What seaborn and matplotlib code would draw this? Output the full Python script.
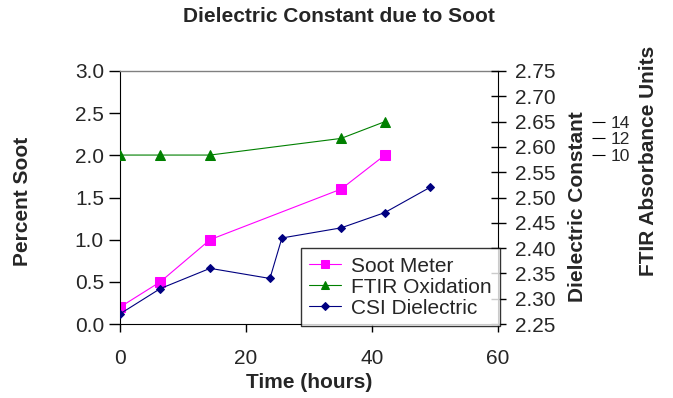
import matplotlib
matplotlib.use("Agg")
import matplotlib.pyplot as plt
import seaborn as sns

# Data
soot_hours = [0, 6.4, 14.3, 35.1, 42.0]
soot_pct = [0.2, 0.5, 1.0, 1.6, 2.0]

ftir_hours = [0, 6.4, 14.3, 35.1, 42.0]
ftir_abs = [10, 10, 10, 12, 14]

csi_hours = [0, 6.4, 14.3, 23.8, 25.7, 35.1, 42.0, 49.2]
csi_diel = [2.27, 2.32, 2.36, 2.34, 2.42, 2.44, 2.47, 2.52]

left_ticks = [0.0, 0.5, 1.0, 1.5, 2.0, 2.5, 3.0]
right_ticks = [2.25, 2.30, 2.35, 2.40, 2.45, 2.50, 2.55, 2.60, 2.65, 2.70, 2.75]
ftir_ticks = [10, 12, 14]
x_ticks = [0, 20, 40, 60]

sns.set_style("white")
plt.rcParams['font.family'] = ['Liberation Sans', 'DejaVu Sans']

fig = plt.figure(figsize=(6.73, 3.98), dpi=100)
ax = fig.add_axes([120/673, 1-324/398, 378/673, 253/398])
ax2 = ax.twinx()
ax3 = ax.twinx()

FS = 15
PX = 72/100  # points per pixel

sns.lineplot(x=soot_hours, y=soot_pct, ax=ax, color='#FF00FF', marker='s',
             markersize=6.5, markeredgecolor='#FF00FF', linewidth=0.8, label='Soot Meter', legend=False)
sns.lineplot(x=ftir_hours, y=ftir_abs, ax=ax3, color='#008000', marker='^',
             markersize=6.5, markeredgecolor='#008000', linewidth=0.8, label='FTIR Oxidation', legend=False)
sns.lineplot(x=csi_hours, y=csi_diel, ax=ax2, color='#000080', marker='D',
             markersize=4.5, markeredgecolor='#000080', linewidth=0.8, label='CSI Dielectric', legend=False)

# Left axis
ax.set_xlim(0, 60)
ax.set_ylim(0, 3.0)
ax.set_xticks(x_ticks)
ax.set_xticklabels([str(t) for t in x_ticks], fontsize=FS)
ax.set_yticks(left_ticks)
ax.set_yticklabels([f"{t:.1f}" for t in left_ticks], fontsize=FS)
ax.tick_params(axis='y', direction='out', length=11*PX, width=1, color='black', left=True, pad=5*PX)
ax.tick_params(axis='x', direction='out', length=8*PX, width=1, color='black', bottom=True, pad=17*PX)
ax.spines['top'].set_visible(True)
ax.spines['top'].set_color('#808080')
ax.spines['top'].set_linewidth(1.0)
ax.spines['right'].set_visible(False)
ax.spines['left'].set_color('black')
ax.spines['bottom'].set_color('black')
ax.set_xlabel('')
ax.set_ylabel('')

# Right dielectric axis
ax2.set_ylim(2.25, 2.75)
ax2.set_yticks(right_ticks)
ax2.set_yticklabels([f"{t:.2f}" for t in right_ticks], fontsize=FS)
ax2.tick_params(axis='y', direction='inout', length=15*PX, width=1, color='black', right=True, pad=9*PX)
for s in ['top', 'left', 'bottom']:
    ax2.spines[s].set_visible(False)
ax2.spines['right'].set_color('black')
ax2.set_ylabel('')

# Third FTIR axis
ax3.set_ylim(-10.3, 20.1)
ax3.spines['right'].set_position(('axes', (592-120)/378))
for s in ['top', 'left', 'bottom', 'right']:
    ax3.spines[s].set_visible(False)
ax3.set_yticks(ftir_ticks)
ax3.set_yticklabels([str(t) for t in ftir_ticks], fontsize=12.5)
ax3.tick_params(axis='y', direction='out', length=13*PX, width=0.8, color='black', right=True, pad=6*PX)
ax3.set_ylabel('')

# Labels
fig.text(339/673, 1-17/398, 'Dielectric Constant due to Soot', ha='center', va='center',
         fontsize=FS, fontweight='bold')
fig.text(309/673, 1-382/398, 'Time (hours)', ha='center', va='center', fontsize=FS, fontweight='bold')
fig.text(23/673, 1-201/398, 'Percent Soot', ha='center', va='center', rotation=90,
         fontsize=FS, fontweight='bold')
fig.text(577.5/673, 1-207/398, 'Dielectric Constant', ha='center', va='center', rotation=90,
         fontsize=FS, fontweight='bold')
fig.text(648/673, 1-161/398, 'FTIR Absorbance Units', ha='center', va='center', rotation=90,
         fontsize=FS, fontweight='bold')

handles = ax.get_lines()[:1] + ax3.get_lines()[:1] + ax2.get_lines()[:1]
labels = ['Soot Meter', 'FTIR Oxidation', 'CSI Dielectric']
leg = fig.legend(handles, labels, loc='lower right', bbox_to_anchor=(500/673, 1-326/398),
                 fontsize=FS, frameon=True, fancybox=False, handlelength=1.5, handletextpad=0.5,
                 borderpad=0.4, labelspacing=0.1, borderaxespad=0, markerscale=0.8)
leg.get_frame().set_edgecolor('black')
leg.get_frame().set_linewidth(1.0)
leg.get_frame().set_facecolor('white')

fig.savefig('out.png', dpi=100)
